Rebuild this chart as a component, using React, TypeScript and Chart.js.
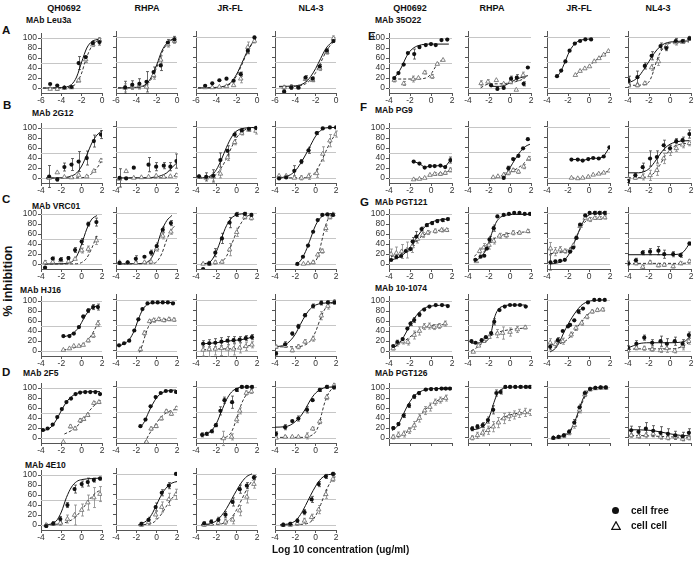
import React, { useEffect, useRef } from "react";
import { Chart, registerables } from "chart.js";
Chart.register(...registerables);

type Pair = [number, number];

const colNames = ["QH0692", "RHPA", "JR-FL", "NL4-3"];
const leftMabs = ["MAb Leu3a", "MAb 2G12", "MAb VRC01", "MAb HJ16", "MAb 2F5", "MAb 4E10"];
const rightMabs = ["MAb 35O22", "MAb PG9", "MAb PGT121", "MAb 10-1074", "MAb PGT126"];
const xTicksWide = [-6, -4, -2, 0];
const xTicksStd = [-4, -2, 0, 2];
const yTicks = [0, 20, 40, 60, 80, 100];
const refValues = [0, 50, 100];

// ---------- Leu3a ----------
const leu_x = [-5.1, -4.4, -3.7, -3.0, -2.3, -1.6, -0.9, -0.25];
const leuQH_f = [8, 5, 1, 2, 50, 62, 90, 92];
const leuQH_fe = [0, 0, 0, 0, 13, 0, 4, 6];
const leuQH_c = [-2, -2, 0, 1, 15, 57, 87, 96];
const leuQH_ce = [0, 3, 0, 0, 3, 6, 4, 5];
const leuQH_fitF: Pair[] = [[-5.8, 0], [-4, 1], [-3, 7], [-2.5, 22], [-2, 52], [-1.5, 80], [-1, 93], [-0.5, 97], [-0.2, 98]];
const leuQH_fitC: Pair[] = [[-5.8, 0], [-4, 0], [-3, 3], [-2.5, 10], [-2, 30], [-1.7, 50], [-1.3, 72], [-1, 84], [-0.5, 94], [-0.2, 97]];
const leuRH_f = [1, 6, 8, 12, 31, 44, 89, 95];
const leuRH_fe = [12, 8, 10, 20, 10, 10, 6, 6];
const leuRH_c = [0, 3, 5, 2, 25, 55, 85, 92];
const leuRH_ce = [8, 6, 6, 4, 8, 8, 5, 5];
const leuRH_fitF: Pair[] = [[-5.8, 0], [-4, 1], [-3, 8], [-2.5, 22], [-2, 45], [-1.5, 72], [-1, 88], [-0.5, 95], [-0.2, 97]];
const leuRH_fitC: Pair[] = [[-5.8, 0], [-4, 1], [-3, 6], [-2.5, 18], [-2, 40], [-1.5, 68], [-1, 86], [-0.5, 94], [-0.2, 96]];
const leuJR_f = [4, 9, 15, 18, 14, 27, 73, 99];
const leuJR_fe = [0, 0, 0, 0, 0, 4, 6, 0];
const leuJR_c = [1, 1, 2, 3, 5, 18, 80, 92];
const leuJR_ce = [0, 0, 0, 0, 0, 8, 10, 4];
const leuJR_fitF: Pair[] = [[-5.8, 0], [-4, 1], [-3, 5], [-2.5, 12], [-2, 27], [-1.5, 48], [-1, 70], [-0.5, 87], [-0.1, 96]];
const leuJR_fitC: Pair[] = [[-5.8, 0], [-4, 0], [-3, 4], [-2.5, 10], [-2, 24], [-1.5, 45], [-1, 68], [-0.5, 86], [-0.1, 95]];
const leuNL_f = [-7, 1, 1, 20, 18, 42, 73, 92];
const leuNL_fe = [0, 4, 3, 4, 3, 4, 4, 3];
const leuNL_c = [1, 2, 1, 17, 15, 38, 70, 97];
const leuNL_ce = [3, 4, 3, 4, 3, 4, 4, 5];
const leuNL_fitF: Pair[] = [[-5.6, 3], [-4, 4], [-3, 11], [-2.5, 22], [-2, 38], [-1.5, 58], [-1, 77], [-0.5, 88], [-0.1, 92]];
const leuNL_fitC: Pair[] = [[-5.6, 2], [-4, 3], [-3, 8], [-2.5, 16], [-2, 30], [-1.5, 50], [-1, 70], [-0.5, 85], [-0.1, 92]];

// ---------- 2G12 ----------
const g12QH_x = [-3.2, -2.4, -1.7, -1.0, -0.3, 0.5, 1.2, 1.9];
const g12QH_f = [3, -3, 22, 27, 33, 40, 74, 87];
const g12QH_fe = [22, 3, 8, 12, 20, 14, 12, 8];
const g12QH_c = [0, 11, 2, 1, 6, 3, 14, 35];
const g12QH_ce = [0, 0, 0, 0, 0, 0, 0, 3];
const g12QH_fitF: Pair[] = [[-3.5, 0], [-2, 0.5], [-1, 4], [-0.5, 10], [0, 24], [0.5, 46], [1, 70], [1.5, 86], [2, 95]];
const g12QH_fitC: Pair[] = [[-3.5, 0], [0, 0.5], [0.5, 3], [1, 9], [1.5, 20], [2, 35]];
const g12RH_fx = [-3.65, -3.0, -2.25, -0.8, -0.05, 0.7, 1.35, 1.95];
const g12RH_f = [0, -1, 20, 26, 22, 24, 22, 33];
const g12RH_fe = [18, 0, 0, 14, 8, 6, 8, 14];
const g12RH_cx = [-3.65, -3.0, -2.25, -1.5, -0.8, -0.05, 0.7, 1.35, 1.95];
const g12RH_c = [-2, 13, 0, 1, 2, 4, 2, 3, 5];
const g12RH_ce = [0, 0, 0, 0, 0, 0, 0, 0, 3];
const g12RH_fitF: Pair[] = [[-3.7, 0], [-1, 0.3], [0, 2], [0.5, 5], [1, 10], [1.5, 20], [2, 30]];
const g12RH_fitC: Pair[] = [[-3.7, 0], [0.5, 0.2], [1, 1], [1.5, 3], [2, 6]];
const g12JR_x = [-3.7, -3.0, -2.3, -1.6, -0.9, -0.2, 0.5, 1.2, 1.9];
const g12JR_f = [3, 2, 4, 35, 53, 85, 93, 96, 98];
const g12JR_fe = [0, 8, 12, 14, 10, 5, 3, 2, 0];
const g12JR_c = [2, 0, 2, 8, 40, 70, 88, 94, 92];
const g12JR_ce = [0, 0, 8, 8, 6, 5, 4, 3, 6];
const g12JR_fitF: Pair[] = [[-3.7, 0], [-3, 1], [-2.5, 5], [-2, 16], [-1.5, 36], [-1, 60], [-0.5, 80], [0, 92], [1, 98], [2, 99]];
const g12JR_fitC: Pair[] = [[-3.7, 0], [-3, 0], [-2.5, 2], [-2, 7], [-1.5, 20], [-1, 38], [-0.5, 60], [0, 79], [0.5, 90], [1, 96], [2, 99]];
const g12NL_x = [-3.6, -2.9, -2.1, -1.4, -0.7, 0.1, 0.7, 1.4, 2.0];
const g12NL_f = [-1, 1, 14, 32, 54, 88, 97, 99, 99];
const g12NL_fe = [0, 0, 10, 4, 6, 3, 0, 0, 0];
const g12NL_c = [4, 4, 0, 0, 3, 9, 47, 73, 86];
const g12NL_ce = [0, 0, 0, 4, 6, 8, 14, 12, 6];
const g12NL_fitF: Pair[] = [[-3.6, 0], [-3, 2], [-2.5, 6], [-2, 14], [-1.5, 28], [-1, 45], [-0.5, 64], [0, 82], [0.5, 93], [1, 98], [2, 99]];
const g12NL_fitC: Pair[] = [[-3.6, 0], [-1, 0.5], [-0.5, 3], [0, 12], [0.5, 30], [1, 52], [1.5, 72], [2, 87]];

// ---------- VRC01 ----------
const vrcQH_x = [-3.6, -2.85, -2.05, -1.3, -0.65, 0.0, 0.65, 1.45];
const vrcQH_f = [-7, 11, 9, 12, 28, 45, 80, 84];
const vrcQH_fe = [0, 3, 4, 3, 5, 6, 4, 8];
const vrcQH_c = [3, 4, 7, 5, 10, 27, 30, 47];
const vrcQH_ce = [4, 0, 0, 0, 0, 5, 6, 8];
const vrcQH_fitF: Pair[] = [[-3.6, 0], [-2, 0.5], [-1, 4], [-0.5, 15], [0, 40], [0.5, 70], [1, 90], [1.5, 97]];
const vrcQH_fitC: Pair[] = [[-3.6, 0], [-0.5, 0.5], [0, 3], [0.5, 12], [1, 32], [1.5, 58]];
const vrcRH_x = [-3.65, -2.85, -2.05, -1.2, -0.55, 0.0, 0.6, 1.4];
const vrcRH_f = [2, 3, 10, 14, 22, 35, 67, 80];
const vrcRH_fe = [0, 0, 6, 0, 5, 6, 5, 5];
const vrcRH_c = [3, 2, 2, 3, 4, 30, 55, 63];
const vrcRH_ce = [0, 0, 0, 0, 0, 5, 6, 5];
const vrcRH_fitF: Pair[] = [[-3.7, 0], [-2, 0.5], [-1, 3], [-0.5, 12], [0, 35], [0.5, 65], [1, 85], [1.5, 95]];
const vrcRH_fitC: Pair[] = [[-3.7, 0], [-0.5, 0.5], [0, 4], [0.5, 20], [1, 48], [1.5, 68], [1.8, 75]];
const vrcJR_x = [-3.3, -2.7, -2.1, -1.45, -0.7, 0.0, 0.8, 1.45];
const vrcJR_f = [-10, 1, 22, 50, 81, 97, 98, 96];
const vrcJR_fe = [0, 4, 8, 10, 10, 4, 3, 3];
const vrcJR_c = [0, 0, 3, 4, 28, 62, 92, 90];
const vrcJR_ce = [0, 0, 3, 3, 12, 8, 4, 4];
const vrcJR_fitF: Pair[] = [[-3.5, 0], [-3, 1], [-2.5, 6], [-2, 24], [-1.5, 50], [-1, 75], [-0.5, 90], [0, 96], [1, 99]];
const vrcJR_fitC: Pair[] = [[-2.2, 0], [-1.5, 4], [-1, 15], [-0.5, 38], [0, 63], [0.5, 82], [1, 93], [1.5, 97]];
const vrcNL_fx = [-1.8, -1.25, -0.75, -0.25, 0.2, 0.65, 1.15, 1.7];
const vrcNL_f = [0, 14, 36, 63, 86, 96, 97, 96];
const vrcNL_fe = [0, 0, 0, 0, 0, 0, 0, 0];
const vrcNL_cx = [-1.2, -0.75, -0.25, 0.2, 0.65, 1.0, 1.4, 1.7];
const vrcNL_c = [0, 1, 3, 18, 25, 70, 92, 97];
const vrcNL_ce = [0, 0, 3, 4, 4, 6, 4, 3];
const vrcNL_fitF: Pair[] = [[-2, -2], [-1.5, 6], [-1, 24], [-0.5, 50], [0, 76], [0.5, 91], [1, 97], [1.7, 99]];
const vrcNL_fitC: Pair[] = [[-0.8, 0], [0, 6], [0.3, 20], [0.6, 45], [0.9, 70], [1.2, 87], [1.7, 98]];

// ---------- HJ16 ----------
const hjQH_x = [-1.8, -1.2, -0.77, -0.27, 0.15, 0.64, 1.13, 1.6];
const hjQH_f = [30, 30, 35, 48, 69, 81, 88, 88];
const hjQH_fe = [0, 0, 0, 0, 3, 4, 5, 6];
const hjQH_c = [2, 5, 10, 10, 12, 21, 31, 55];
const hjQH_ce = [0, 0, 0, 0, 0, 3, 4, 6];
const hjQH_fitF: Pair[] = [[-1.8, 28], [-1.2, 32], [-0.7, 38], [-0.2, 50], [0.2, 65], [0.6, 78], [1, 86], [1.6, 91]];
const hjQH_fitC: Pair[] = [[-1.8, 2], [-1, 5], [0, 12], [0.5, 20], [1, 33], [1.4, 48], [1.7, 62]];
const hjRH_fx = [-3.7, -3.2, -2.7, -2.2, -1.8, -1.4, -0.9, -0.4, 0.1, 0.6, 1.1, 1.6];
const hjRH_f = [11, 15, 20, 40, 62, 82, 93, 95, 95, 95, 95, 93];
const hjRH_fe = [0, 0, 0, 0, 0, 0, 0, 0, 0, 0, 0, 0];
const hjRH_cx = [-1.6, -1.2, -0.7, -0.3, 0.2, 0.7, 1.2, 1.7];
const hjRH_c = [3, 35, 58, 60, 62, 60, 62, 61];
const hjRH_ce = [4, 4, 3, 4, 3, 3, 3, 3];
const hjRH_fitF: Pair[] = [[-3.8, 9], [-3.2, 14], [-2.7, 22], [-2.2, 40], [-1.8, 62], [-1.4, 80], [-1, 90], [-0.5, 94], [1.8, 95]];
const hjRH_fitC: Pair[] = [[-1.7, -3], [-1.4, 12], [-1.1, 32], [-0.8, 48], [-0.5, 56], [0, 60], [1.8, 62]];
const hjJR_x = [-3.3, -2.7, -2.1, -1.5, -0.9, -0.3, 0.3, 0.9, 1.5];
const hjJR_f = [14, 15, 16, 18, 20, 21, 22, 25, 27];
const hjJR_fe = [6, 7, 8, 8, 8, 7, 6, 5, 5];
const hjJR_c = [2, 3, 4, 5, 4, 4, 6, 9, 12];
const hjJR_ce = [12, 14, 12, 14, 15, 12, 10, 8, 6];
const hjJR_fitF: Pair[] = [[-3.3, 14], [-2, 16], [-1, 19], [0, 21], [1, 24], [1.6, 28]];
const hjJR_fitC: Pair[] = [[-3.3, 2], [-2, 4], [-1, 4], [0, 5], [1, 9], [1.6, 13]];
const hjNL_x = [-3.9, -3.0, -2.3, -1.7, -1.05, -0.25, 0.55, 1.2, 1.85];
const hjNL_f = [-5, 13, 34, 48, 70, 88, 94, 95, 95];
const hjNL_fe = [3, 5, 3, 4, 3, 4, 4, 3, 3];
const hjNL_c = [8, 10, 1, 8, 18, 24, 69, 88, 96];
const hjNL_ce = [3, 3, 3, 4, 4, 5, 8, 6, 4];
const hjNL_fitF: Pair[] = [[-4, 8], [-3, 12], [-2.5, 20], [-2, 33], [-1.5, 52], [-1, 70], [-0.5, 83], [0, 90], [1, 94], [2, 95]];
const hjNL_fitC: Pair[] = [[-4, 8], [-2, 8], [-1, 12], [-0.5, 20], [0, 38], [0.5, 65], [1, 85], [1.5, 93], [2, 96]];

// ---------- 2F5 ----------
const f5QH_fx = [-3.8, -3.35, -2.85, -2.4, -1.95, -1.5, -1.05, -0.6, -0.15, 0.35, 0.85, 1.35, 1.8];
const f5QH_f = [16, 19, 27, 42, 58, 72, 79, 88, 91, 92, 92, 92, 88];
const f5QH_fe = [0, 0, 0, 0, 0, 0, 0, 0, 0, 0, 0, 0, 0];
const f5QH_cx = [-1.8, -1.1, -0.65, -0.15, 0.2, 0.6, 1.2, 1.7];
const f5QH_c = [-8, 23, 19, 35, 38, 46, 70, 72];
const f5QH_ce = [0, 3, 3, 4, 3, 3, 3, 3];
const f5QH_fitF: Pair[] = [[-3.8, 14], [-3, 22], [-2.5, 36], [-2, 55], [-1.5, 72], [-1, 83], [-0.5, 89], [0, 92], [1.8, 93]];
const f5QH_fitC: Pair[] = [[-1.7, 8], [-1, 15], [-0.5, 23], [0, 33], [0.5, 48], [1, 60], [1.5, 70], [1.9, 75]];
const f5RH_fx = [-1.6, -1.1, -0.6, -0.1, 0.4, 0.9, 1.4, 1.9];
const f5RH_f = [23, 36, 62, 80, 88, 92, 92, 90];
const f5RH_fe = [0, 0, 0, 0, 0, 0, 0, 0];
const f5RH_cx = [-1.0, -0.55, -0.05, 0.45, 0.95, 1.45, 1.95];
const f5RH_c = [-8, 18, 23, 38, 52, 47, 58];
const f5RH_ce = [0, 3, 3, 3, 3, 3, 3];
const f5RH_fitF: Pair[] = [[-1.6, 20], [-1.2, 32], [-0.8, 50], [-0.4, 66], [0, 79], [0.5, 88], [1, 92], [1.9, 94]];
const f5RH_fitC: Pair[] = [[-1.2, -10], [-0.8, 5], [-0.4, 18], [0, 30], [0.5, 42], [1, 50], [1.5, 54], [1.9, 56]];
const f5JR_fx = [-3.4, -2.95, -2.45, -2.05, -1.6, -1.2, -0.45, 0.0, 0.5, 1.0, 1.5];
const f5JR_f = [6, 8, 13, 25, 53, 74, 70, 94, 100, 100, 100];
const f5JR_fe = [4, 3, 3, 3, 8, 6, 12, 3, 2, 2, 2];
const f5JR_cx = [-1.3, -0.5, 0.0, 0.3, 0.95, 1.45];
const f5JR_c = [-1, 2, 36, 53, 88, 91];
const f5JR_ce = [14, 6, 6, 6, 4, 4];
const f5JR_fitF: Pair[] = [[-3.5, 4], [-3, 7], [-2.5, 14], [-2, 28], [-1.5, 52], [-1, 75], [-0.5, 90], [0, 97], [1, 100], [1.6, 100]];
const f5JR_fitC: Pair[] = [[-1.6, -2], [-1, 2], [-0.5, 12], [0, 38], [0.5, 68], [1, 86], [1.5, 94]];
const f5NL_x = [-3.9, -3.0, -2.3, -1.7, -0.85, -0.3, 0.4, 1.1, 1.8];
const f5NL_f = [8, 21, 33, 38, 55, 74, 94, 100, 99];
const f5NL_fe = [4, 5, 0, 5, 6, 0, 3, 3, 3];
const f5NL_c = [0, 2, 2, 2, 4, 18, 32, 80, 103];
const f5NL_ce = [0, 2, 0, 0, 6, 3, 4, 5, 3];
const f5NL_fitF: Pair[] = [[-4, 21], [-3, 22], [-2.5, 25], [-2, 32], [-1.5, 42], [-1, 57], [-0.5, 75], [0, 88], [0.5, 95], [1, 99], [1.8, 100]];
const f5NL_fitC: Pair[] = [[-4, 1], [-1, 1], [-0.5, 4], [0, 12], [0.3, 25], [0.6, 48], [0.9, 70], [1.2, 85], [1.5, 94], [1.9, 100]];

// ---------- 4E10 ----------
const e10QH_x = [-3.5, -2.8, -2.1, -1.4, -0.7, 0.0, 0.6, 1.2, 1.8];
const e10QH_f = [-2, 3, 12, 40, 72, 82, 86, 90, 93];
const e10QH_fe = [3, 4, 5, 5, 8, 6, 8, 4, 3];
const e10QH_c = [0, 2, 4, 12, 20, 30, 45, 55, 62];
const e10QH_ce = [3, 3, 5, 8, 20, 12, 15, 20, 15];
const e10QH_fitF: Pair[] = [[-3.6, 0], [-3, 2], [-2.5, 8], [-2, 26], [-1.5, 55], [-1, 76], [-0.5, 87], [0, 91], [1, 93], [1.8, 94]];
const e10QH_fitC: Pair[] = [[-3.6, 0], [-2, 3], [-1, 10], [-0.5, 18], [0, 30], [0.5, 44], [1, 57], [1.5, 66], [1.9, 70]];
const e10RH_x = [-1.5, -0.8, -0.1, 0.5, 1.2, 1.9];
const e10RH_f = [2, 10, 35, 63, 77, 100];
const e10RH_fe = [3, 5, 8, 6, 6, 0];
const e10RH_c = [0, 5, 20, 35, 50, 60];
const e10RH_ce = [3, 5, 8, 10, 12, 10];
const e10RH_fitF: Pair[] = [[-1.8, 0], [-1, 8], [-0.5, 20], [0, 40], [0.5, 60], [1, 74], [1.5, 82], [2, 85]];
const e10RH_fitC: Pair[] = [[-1.8, 0], [-0.5, 3], [0, 10], [0.5, 22], [1, 38], [1.5, 52], [2, 62]];
const e10JR_x = [-3.2, -2.5, -1.8, -1.1, -0.4, 0.3, 1.0, 1.7];
const e10JR_f = [3, 6, 10, 20, 45, 70, 77, 93];
const e10JR_fe = [3, 4, 5, 6, 8, 8, 6, 4];
const e10JR_c = [0, 2, 4, 6, 10, 28, 55, 80];
const e10JR_ce = [3, 3, 4, 5, 8, 10, 12, 8];
const e10JR_fitF: Pair[] = [[-3.5, 0], [-2.5, 3], [-2, 8], [-1.5, 18], [-1, 32], [-0.5, 50], [0, 68], [0.5, 84], [1, 95], [1.5, 100]];
const e10JR_fitC: Pair[] = [[-3.5, 0], [-1.5, 2], [-1, 6], [-0.5, 14], [0, 30], [0.5, 50], [1, 70], [1.5, 86], [2, 95]];
const e10NL_x = [-3.2, -2.5, -1.8, -1.1, -0.4, 0.3, 1.0, 1.7];
const e10NL_f = [0, 2, 8, 25, 50, 80, 95, 100];
const e10NL_fe = [3, 3, 4, 5, 6, 5, 4, 3];
const e10NL_c = [0, 0, 3, 8, 15, 30, 60, 90];
const e10NL_ce = [3, 3, 4, 5, 6, 8, 8, 5];
const e10NL_fitF: Pair[] = [[-3.5, 0], [-2.5, 3], [-2, 8], [-1.5, 20], [-1, 38], [-0.5, 58], [0, 76], [0.5, 90], [1, 97], [2, 100]];
const e10NL_fitC: Pair[] = [[-3.5, 0], [-1.5, 1], [-0.5, 6], [0, 18], [0.5, 40], [1, 66], [1.5, 85], [2, 95]];

// ---------- 35O22 ----------
const o22QH_fx = [-3.5, -3.1, -2.6, -2.2, -1.6, -1.1, -0.5, 0.0, 0.45, 1.0, 1.55];
const o22QH_f = [20, 30, 47, 70, 68, 82, 86, 88, 86, 96, 97];
const o22QH_fe = [0, 0, 0, 0, 10, 3, 0, 0, 0, 0, 0];
const o22QH_cx = [-3.5, -2.6, -1.7, -1.2, -0.6, 0.1, 0.6, 1.15];
const o22QH_c = [16, 9, 18, 20, 31, 23, 48, 56];
const o22QH_ce = [4, 4, 6, 0, 3, 4, 0, 0];
const o22QH_fitF: Pair[] = [[-3.6, 18], [-3.2, 28], [-2.8, 42], [-2.5, 56], [-2.2, 68], [-1.8, 78], [-1.2, 85], [0, 88], [1.7, 88]];
const o22QH_fitC: Pair[] = [[-3.6, 18], [-1.5, 18], [-0.5, 20], [0, 28], [0.3, 38], [0.6, 48], [0.9, 54], [1.2, 57]];
const o22RH_fx = [-1.8, -1.2, -0.6, 0.1, 0.65, 1.3, 1.7];
const o22RH_f = [5, -2, 0, 18, 20, 8, 40];
const o22RH_fe = [0, 0, 0, 5, 6, 4, 0];
const o22RH_cx = [-2.75, -2.1, -1.3, -0.6, 0.05, 0.6, 1.25];
const o22RH_c = [9, 12, 15, 8, 12, -4, 25];
const o22RH_ce = [5, 4, 0, 0, 4, 0, 6];
const o22RH_fitF: Pair[] = [[-1.8, 3], [-1, 3], [-0.5, 5], [0, 10], [0.5, 16], [1, 20], [1.7, 24]];
const o22RH_fitC: Pair[] = [[-2.8, 0], [-2.3, 6], [-1.8, 8], [-1, 8], [-0.3, 9], [0.5, 12], [1.2, 17], [1.7, 25]];
const o22JR_fx = [-3.05, -2.65, -2.25, -1.85, -1.35, -0.85, -0.35, 0.2];
const o22JR_f = [23, 34, 52, 73, 87, 92, 95, 95];
const o22JR_fe = [0, 0, 0, 0, 0, 0, 0, 0];
const o22JR_cx = [-1.3, -0.85, -0.4, 0.05, 0.5, 0.95, 1.4, 1.85];
const o22JR_c = [25, 33, 38, 42, 52, 58, 65, 72];
const o22JR_ce = [0, 0, 0, 0, 0, 0, 0, 0];
const o22JR_fitF: Pair[] = [[-3.1, 20], [-2.7, 32], [-2.3, 50], [-1.9, 70], [-1.5, 83], [-1, 92], [-0.4, 95], [0.2, 96]];
const o22JR_fitC: Pair[] = [[-1.3, 25], [-0.8, 33], [-0.3, 39], [0.1, 44], [0.5, 52], [1, 59], [1.5, 66], [1.9, 72]];
const o22NL_fx = [-3.95, -3.1, -2.4, -1.75, -0.9, -0.35, 0.55, 1.2, 1.85];
const o22NL_f = [15, 21, 43, 63, 82, 78, 92, 92, 97];
const o22NL_fe = [8, 12, 6, 8, 6, 5, 5, 3, 3];
const o22NL_cx = [-3.95, -3.1, -2.4, -1.75, -1.1, -0.35, 0.55, 1.2, 1.85];
const o22NL_c = [5, 5, 9, 40, 52, 82, 89, 90, 97];
const o22NL_ce = [3, 3, 3, 6, 8, 5, 5, 3, 3];
const o22NL_fitF: Pair[] = [[-4, 10], [-3.5, 14], [-3, 22], [-2.5, 36], [-2, 52], [-1.5, 68], [-1, 80], [-0.5, 87], [0.5, 91], [1.8, 92]];
const o22NL_fitC: Pair[] = [[-4, 5], [-2.5, 6], [-2, 12], [-1.7, 25], [-1.4, 45], [-1.1, 62], [-0.7, 77], [-0.2, 86], [0.5, 89], [1.8, 90]];

// ---------- PG9 ----------
const pg9QH_x = [-1.65, -1.1, -0.6, -0.1, 0.35, 0.9, 1.35, 1.85];
const pg9QH_f = [33, 29, 21, 24, 24, 25, 22, 36];
const pg9QH_fe = [0, 0, 0, 0, 0, 0, 0, 6];
const pg9QH_c = [-3, -2, 0, 6, 8, 8, 10, 16];
const pg9QH_ce = [0, 0, 0, 0, 3, 3, 3, 4];
const pg9QH_fitF: Pair[] = [[-1.65, 33], [-1.1, 29], [-0.6, 21], [-0.1, 24], [0.35, 24], [0.9, 25], [1.35, 22], [1.85, 36]];
const pg9QH_fitC: Pair[] = [[-1.65, -3], [-1.1, -2], [-0.6, 0], [-0.1, 6], [0.35, 8], [0.9, 8], [1.35, 10], [1.85, 16]];
const pg9RH_fx = [-0.6, -0.15, 0.3, 0.8, 1.25, 1.7];
const pg9RH_f = [0, 19, 37, 43, 58, 76];
const pg9RH_fe = [0, 4, 0, 0, 0, 0];
const pg9RH_cx = [-1.6, -1.15, -0.6, -0.15, 0.3, 0.8, 1.3, 1.8];
const pg9RH_c = [1, 3, 6, 10, 15, 12, 22, 38];
const pg9RH_ce = [0, 0, 4, 4, 3, 3, 4, 4];
const pg9RH_fitF: Pair[] = [[-0.7, -2], [-0.3, 10], [0, 20], [0.5, 37], [1, 52], [1.5, 62], [1.9, 66]];
const pg9RH_fitC: Pair[] = [[-1.8, 0], [-1, 3], [-0.3, 8], [0.3, 14], [0.8, 20], [1.3, 28], [1.9, 40]];
const pg9JR_x = [-1.67, -1.07, -0.6, -0.07, 0.4, 0.93, 1.4, 1.95];
const pg9JR_f = [36, 36, 34, 37, 39, 38, 42, 60];
const pg9JR_fe = [0, 0, 0, 0, 0, 0, 0, 0];
const pg9JR_c = [0, -1, 0, 2, 6, 8, 10, 14];
const pg9JR_ce = [0, 0, 0, 0, 0, 0, 0, 0];
const pg9JR_fitF: Pair[] = [[-1.67, 36], [-1.07, 36], [-0.6, 34], [-0.07, 37], [0.4, 39], [0.93, 38], [1.4, 42], [1.95, 60]];
const pg9JR_fitC: Pair[] = [[-1.67, 0], [-1.07, -1], [-0.6, 0], [-0.07, 2], [0.4, 6], [0.93, 8], [1.4, 10], [1.95, 14]];
const pg9NL_x = [-4.0, -3.3, -2.6, -1.9, -1.25, -0.6, 0.0, 0.6, 1.2, 1.85];
const pg9NL_f = [-6, 5, 21, 38, 41, 64, 58, 72, 74, 86];
const pg9NL_fe = [3, 4, 8, 15, 12, 10, 6, 5, 6, 8];
const pg9NL_c = [-2, 0, 2, 5, 15, 38, 52, 58, 65, 68];
const pg9NL_ce = [3, 3, 6, 10, 10, 10, 8, 6, 6, 5];
const pg9NL_fitF: Pair[] = [[-4, 10], [-3, 10], [-2.5, 12], [-2, 18], [-1.5, 30], [-1, 45], [-0.5, 58], [0, 66], [0.5, 70], [1, 72], [1.8, 73]];
const pg9NL_fitC: Pair[] = [[-4, 0], [-2.5, 1], [-2, 3], [-1.5, 10], [-1, 24], [-0.5, 42], [0, 55], [0.5, 63], [1, 66], [1.8, 68]];

// ---------- PGT121 ----------
const t121QH_fx = [-3.8, -3.3, -2.85, -2.4, -1.95, -1.75, -1.4, -0.9, -0.4, 0.1, 0.6, 1.1, 1.6];
const t121QH_f = [8, 14, 16, 26, 30, 45, 55, 70, 78, 82, 86, 88, 90];
const t121QH_fe = [0, 0, 0, 0, 0, 8, 10, 4, 3, 3, 3, 3, 2];
const t121QH_cx = [-3.8, -3.3, -2.8, -2.3, -1.8, -1.3, -0.8, -0.3, 0.4, 1.0, 1.5];
const t121QH_c = [20, 22, 25, 28, 35, 50, 58, 63, 66, 68, 68];
const t121QH_ce = [10, 12, 14, 16, 12, 8, 5, 4, 4, 4, 3];
const t121QH_fitF: Pair[] = [[-3.8, 8], [-3.2, 12], [-2.7, 18], [-2.2, 28], [-1.7, 42], [-1.2, 58], [-0.7, 72], [-0.2, 81], [0.5, 87], [1.6, 90]];
const t121QH_fitC: Pair[] = [[-3.8, 15], [-3.2, 18], [-2.7, 22], [-2.2, 30], [-1.7, 40], [-1.2, 50], [-0.7, 58], [-0.2, 63], [0.5, 67], [1.5, 68]];
const t121RH_fx = [-3.3, -2.8, -2.45, -2.2, -1.95, -1.55, -1.2, -0.6, -0.1, 0.4, 0.9, 1.4, 1.9];
const t121RH_f = [8, 14, 16, 30, 48, 70, 93, 96, 98, 100, 100, 98, 98];
const t121RH_fe = [0, 0, 0, 0, 6, 6, 0, 0, 0, 0, 0, 0, 0];
const t121RH_cx = [-3.2, -2.9, -2.5, -2.0, -1.55, -1.0, -0.35, 0.3, 0.9, 1.7];
const t121RH_c = [5, 25, 32, 37, 45, 55, 56, 61, 61, 64];
const t121RH_ce = [0, 6, 8, 8, 6, 5, 5, 4, 3, 3];
const t121RH_fitF: Pair[] = [[-3.4, 5], [-3, 10], [-2.6, 18], [-2.2, 32], [-1.9, 50], [-1.6, 68], [-1.3, 82], [-1, 90], [-0.5, 95], [0.5, 97], [1.9, 97]];
const t121RH_fitC: Pair[] = [[-3.4, 15], [-3, 22], [-2.6, 30], [-2.2, 38], [-1.8, 45], [-1.3, 52], [-0.8, 56], [0, 60], [1, 62], [1.9, 63]];
const t121JR_x = [-3.67, -3.2, -2.75, -2.3, -1.8, -1.5, -1.2, -0.85, -0.36, 0.06, 0.55, 1.0, 1.5];
const t121JR_f = [3, 5, 6, 8, 24, 32, 51, 77, 95, 100, 100, 100, 100];
const t121JR_fe = [15, 0, 0, 0, 0, 0, 0, 0, 0, 0, 3, 3, 3];
const t121JR_c = [30, 24, 28, 25, 27, 36, 52, 74, 90, 87, 90, 90, 91];
const t121JR_ce = [12, 8, 6, 4, 4, 0, 0, 0, 0, 4, 3, 3, 3];
const t121JR_fitF: Pair[] = [[-3.7, 0], [-3, 2], [-2.5, 6], [-2, 16], [-1.6, 32], [-1.2, 52], [-0.8, 72], [-0.4, 88], [0, 96], [0.5, 99], [1.5, 100]];
const t121JR_fitC: Pair[] = [[-3.7, 20], [-3, 22], [-2.5, 24], [-2, 28], [-1.6, 36], [-1.2, 52], [-0.8, 70], [-0.4, 82], [0, 88], [0.5, 90], [1.5, 91]];
const t121NL_x = [-4.0, -3.25, -2.6, -1.9, -1.1, -0.55, 0.3, 1.0, 1.85];
const t121NL_f = [1, 7, 22, 24, 26, 19, 19, 17, 40];
const t121NL_fe = [3, 4, 4, 6, 8, 8, 5, 4, 3];
const t121NL_c = [3, 1, -6, 3, -3, -2, -5, 1, 5];
const t121NL_ce = [3, 3, 3, 3, 3, 3, 3, 3, 3];
const t121NL_fitF: Pair[] = [[-4, 18], [-2, 18], [0, 18], [0.8, 19], [1.3, 24], [1.6, 32], [1.9, 42]];
const t121NL_fitC: Pair[] = [[-4, 1], [-2, 1], [0, 1], [1, 1], [1.9, 2]];

// ---------- 10-1074 ----------
const t1074QH_fx = [-3.6, -3.2, -2.7, -2.25, -1.95, -1.6, -1.1, -0.65, -0.15, 0.45, 1.05, 1.6];
const t1074QH_f = [10, 18, 24, 45, 55, 62, 73, 83, 89, 92, 92, 90];
const t1074QH_fe = [0, 0, 0, 0, 4, 5, 4, 0, 0, 0, 0, 0];
const t1074QH_cx = [-3.6, -3.2, -2.7, -2.2, -1.6, -1.1, -0.65, -0.15, 0.3, 0.8, 1.35];
const t1074QH_c = [5, 16, 19, 18, 32, 40, 49, 50, 48, 50, 55];
const t1074QH_ce = [3, 6, 5, 6, 8, 8, 6, 6, 5, 5, 5];
const t1074QH_fitF: Pair[] = [[-3.7, 5], [-3.2, 12], [-2.8, 22], [-2.4, 36], [-2, 52], [-1.6, 65], [-1.2, 76], [-0.7, 85], [0, 90], [1.6, 92]];
const t1074QH_fitC: Pair[] = [[-3.7, 10], [-3.2, 13], [-2.7, 18], [-2.2, 25], [-1.7, 33], [-1.2, 41], [-0.7, 47], [0, 51], [1.4, 53]];
const t1074RH_fx = [-3.67, -3.28, -2.7, -2.3, -1.8, -1.5, -1.0, -0.5, 0.0, 0.45, 0.95, 1.5];
const t1074RH_f = [19, 16, 21, 27, 35, 57, 80, 87, 90, 90, 90, 87];
const t1074RH_fe = [0, 0, 0, 0, 0, 6, 0, 0, 0, 0, 0, 0];
const t1074RH_cx = [-3.5, -3.0, -2.5, -2.0, -1.2, -0.7, 0.0, 0.7, 1.45];
const t1074RH_c = [-2, 10, 19, 27, 34, 35, 37, 42, 46];
const t1074RH_ce = [0, 0, 0, 0, 8, 12, 8, 6, 3];
const t1074RH_fitF: Pair[] = [[-3.7, 15], [-2.5, 17], [-2.1, 22], [-1.8, 35], [-1.6, 55], [-1.4, 70], [-1.1, 82], [-0.6, 88], [0, 90], [1.5, 90]];
const t1074RH_fitC: Pair[] = [[-3.7, 0], [-3.2, 6], [-2.7, 14], [-2.2, 24], [-1.7, 31], [-1.2, 36], [-0.5, 40], [0.5, 43], [1.5, 45]];
const t1074JR_fx = [-3.7, -2.97, -2.5, -2.0, -1.8, -1.4, -1.0, -0.57, -0.1, 0.5, 1.0, 1.5];
const t1074JR_f = [8, 21, 39, 48, 51, 60, 77, 83, 95, 100, 100, 100];
const t1074JR_fe = [6, 5, 0, 0, 0, 0, 4, 0, 0, 0, 0, 0];
const t1074JR_cx = [-3.7, -3.2, -2.5, -1.7, -1.25, -0.7, -0.2, 0.3, 0.8, 1.3];
const t1074JR_c = [16, 13, 19, 32, 45, 55, 67, 77, 80, 81];
const t1074JR_ce = [8, 6, 6, 5, 5, 5, 4, 3, 3, 3];
const t1074JR_fitF: Pair[] = [[-3.7, -2], [-3.2, 5], [-2.8, 18], [-2.4, 36], [-2, 52], [-1.6, 66], [-1.2, 78], [-0.8, 88], [-0.2, 96], [0.5, 99], [1.5, 100]];
const t1074JR_fitC: Pair[] = [[-3.7, 12], [-2.8, 14], [-2.2, 20], [-1.7, 30], [-1.2, 44], [-0.7, 58], [-0.2, 70], [0.3, 77], [1, 81], [1.5, 82]];
const t1074NL_x = [-4.0, -3.2, -2.45, -1.7, -0.9, -0.3, 0.45, 1.2, 1.8];
const t1074NL_f = [6, 14, 26, 16, 19, 14, 19, 14, 31];
const t1074NL_fe = [4, 6, 5, 6, 10, 10, 8, 8, 6];
const t1074NL_c = [1, 6, 5, 3, 1, 5, 0, 10, 19];
const t1074NL_ce = [3, 4, 4, 4, 4, 8, 4, 8, 6];
const t1074NL_fitF: Pair[] = [[-4, 6], [-3.5, 10], [-3, 14], [-2, 16], [0, 16], [1, 17], [1.5, 20], [1.9, 28]];
const t1074NL_fitC: Pair[] = [[-4, 3], [-3, 4], [-1, 4], [0, 4], [1, 7], [1.5, 12], [1.9, 18]];

// ---------- PGT126 ----------
const t126QH_fx = [-3.6, -3.1, -2.6, -2.1, -1.6, -1.15, -0.5, 0.0, 0.5, 1.0, 1.4, 1.8];
const t126QH_f = [20, 28, 45, 65, 83, 90, 97, 98, 98, 99, 99, 99];
const t126QH_fe = [3, 3, 4, 4, 4, 3, 2, 2, 2, 2, 2, 2];
const t126QH_cx = [-3.6, -3.1, -2.6, -2.1, -1.6, -1.1, -0.6, -0.1, 0.4, 0.9, 1.4];
const t126QH_c = [2, 6, 8, 15, 25, 40, 55, 62, 72, 76, 80];
const t126QH_ce = [4, 6, 6, 6, 8, 8, 8, 8, 6, 6, 6];
const t126QH_fitF: Pair[] = [[-3.7, 15], [-3.2, 24], [-2.8, 40], [-2.4, 58], [-2, 73], [-1.6, 84], [-1.1, 92], [-0.5, 97], [0.5, 99], [1.8, 99]];
const t126QH_fitC: Pair[] = [[-3.7, 0], [-3, 4], [-2.5, 9], [-2, 17], [-1.5, 30], [-1, 45], [-0.5, 58], [0, 67], [0.5, 74], [1, 78], [1.5, 80]];
const t126RH_fx = [-3.6, -3.1, -2.6, -2.1, -1.6, -1.3, -0.9, -0.45, 0.0, 0.5, 1.0, 1.5, 1.9];
const t126RH_f = [18, 22, 25, 35, 55, 88, 90, 100, 100, 100, 100, 100, 100];
const t126RH_fe = [4, 4, 5, 6, 8, 6, 4, 2, 2, 2, 2, 2, 2];
const t126RH_cx = [-3.6, -3.1, -2.6, -2.1, -1.6, -1.1, -0.6, -0.1, 0.4, 0.9, 1.4, 1.9];
const t126RH_c = [0, 5, 10, 15, 22, 30, 38, 42, 45, 48, 50, 50];
const t126RH_ce = [4, 6, 6, 8, 10, 10, 10, 8, 8, 8, 8, 6];
const t126RH_fitF: Pair[] = [[-3.7, 15], [-2.8, 20], [-2.3, 28], [-1.9, 45], [-1.6, 65], [-1.3, 82], [-1, 92], [-0.5, 98], [0.5, 100], [1.9, 100]];
const t126RH_fitC: Pair[] = [[-3.7, 0], [-3, 5], [-2.5, 10], [-2, 18], [-1.5, 27], [-1, 35], [-0.5, 41], [0, 45], [1, 49], [1.9, 50]];
const t126JR_x = [-3.4, -2.9, -2.4, -1.9, -1.4, -0.9, -0.4, 0.1, 0.6, 1.1, 1.6];
const t126JR_f = [0, 2, 5, 12, 30, 60, 88, 96, 98, 99, 99];
const t126JR_fe = [2, 2, 3, 4, 6, 6, 4, 2, 2, 2, 2];
const t126JR_c = [0, 1, 4, 10, 25, 55, 85, 95, 97, 98, 98];
const t126JR_ce = [2, 2, 3, 4, 6, 6, 4, 3, 2, 2, 2];
const t126JR_fitF: Pair[] = [[-3.5, 0], [-2.5, 4], [-2, 10], [-1.5, 25], [-1, 52], [-0.5, 80], [0, 94], [0.5, 98], [1.6, 100]];
const t126JR_fitC: Pair[] = [[-3.5, 0], [-2.5, 3], [-2, 8], [-1.5, 22], [-1, 48], [-0.5, 76], [0, 92], [0.5, 97], [1.6, 99]];
const t126NL_x = [-3.7, -3.0, -2.3, -1.6, -0.9, -0.2, 0.5, 1.2, 1.8];
const t126NL_f = [15, 12, 18, 14, 10, 8, 5, 3, 10];
const t126NL_fe = [8, 10, 12, 10, 12, 10, 8, 8, 8];
const t126NL_c = [5, 3, 5, 8, 2, 0, 2, -2, 0];
const t126NL_ce = [4, 4, 5, 6, 4, 4, 4, 4, 4];
const t126NL_fitF: Pair[] = [[-3.7, 16], [-2, 15], [-1, 12], [0, 8], [1, 5], [1.8, 4]];
const t126NL_fitC: Pair[] = [[-3.7, 5], [-2, 4], [0, 2], [1.8, 1]];

// ---------- panel table (built from the arrays above) ----------
interface Panel {
  side: number; row: number; col: number; wide?: boolean; straight?: boolean; showX?: boolean;
  fx: number[]; fy: number[]; fe: number[]; cx: number[]; cy: number[]; ce: number[];
  fitF: Pair[]; fitC: Pair[];
}
const P = (side: number, row: number, col: number, fx: number[], fy: number[], fe: number[], cx: number[], cy: number[], ce: number[], fitF: Pair[], fitC: Pair[], extra: Partial<Panel> = {}): Panel =>
  ({ side, row, col, fx, fy, fe, cx, cy, ce, fitF, fitC, ...extra });

const panels: Panel[] = [
  P(0, 0, 0, leu_x, leuQH_f, leuQH_fe, leu_x, leuQH_c, leuQH_ce, leuQH_fitF, leuQH_fitC, { wide: true }),
  P(0, 0, 1, leu_x, leuRH_f, leuRH_fe, leu_x, leuRH_c, leuRH_ce, leuRH_fitF, leuRH_fitC, { wide: true }),
  P(0, 0, 2, leu_x, leuJR_f, leuJR_fe, leu_x, leuJR_c, leuJR_ce, leuJR_fitF, leuJR_fitC, { wide: true }),
  P(0, 0, 3, leu_x, leuNL_f, leuNL_fe, leu_x, leuNL_c, leuNL_ce, leuNL_fitF, leuNL_fitC, { wide: true }),
  P(0, 1, 0, g12QH_x, g12QH_f, g12QH_fe, g12QH_x, g12QH_c, g12QH_ce, g12QH_fitF, g12QH_fitC),
  P(0, 1, 1, g12RH_fx, g12RH_f, g12RH_fe, g12RH_cx, g12RH_c, g12RH_ce, g12RH_fitF, g12RH_fitC),
  P(0, 1, 2, g12JR_x, g12JR_f, g12JR_fe, g12JR_x, g12JR_c, g12JR_ce, g12JR_fitF, g12JR_fitC),
  P(0, 1, 3, g12NL_x, g12NL_f, g12NL_fe, g12NL_x, g12NL_c, g12NL_ce, g12NL_fitF, g12NL_fitC),
  P(0, 2, 0, vrcQH_x, vrcQH_f, vrcQH_fe, vrcQH_x, vrcQH_c, vrcQH_ce, vrcQH_fitF, vrcQH_fitC),
  P(0, 2, 1, vrcRH_x, vrcRH_f, vrcRH_fe, vrcRH_x, vrcRH_c, vrcRH_ce, vrcRH_fitF, vrcRH_fitC),
  P(0, 2, 2, vrcJR_x, vrcJR_f, vrcJR_fe, vrcJR_x, vrcJR_c, vrcJR_ce, vrcJR_fitF, vrcJR_fitC),
  P(0, 2, 3, vrcNL_fx, vrcNL_f, vrcNL_fe, vrcNL_cx, vrcNL_c, vrcNL_ce, vrcNL_fitF, vrcNL_fitC),
  P(0, 3, 0, hjQH_x, hjQH_f, hjQH_fe, hjQH_x, hjQH_c, hjQH_ce, hjQH_fitF, hjQH_fitC),
  P(0, 3, 1, hjRH_fx, hjRH_f, hjRH_fe, hjRH_cx, hjRH_c, hjRH_ce, hjRH_fitF, hjRH_fitC),
  P(0, 3, 2, hjJR_x, hjJR_f, hjJR_fe, hjJR_x, hjJR_c, hjJR_ce, hjJR_fitF, hjJR_fitC),
  P(0, 3, 3, hjNL_x, hjNL_f, hjNL_fe, hjNL_x, hjNL_c, hjNL_ce, hjNL_fitF, hjNL_fitC),
  P(0, 4, 0, f5QH_fx, f5QH_f, f5QH_fe, f5QH_cx, f5QH_c, f5QH_ce, f5QH_fitF, f5QH_fitC),
  P(0, 4, 1, f5RH_fx, f5RH_f, f5RH_fe, f5RH_cx, f5RH_c, f5RH_ce, f5RH_fitF, f5RH_fitC),
  P(0, 4, 2, f5JR_fx, f5JR_f, f5JR_fe, f5JR_cx, f5JR_c, f5JR_ce, f5JR_fitF, f5JR_fitC),
  P(0, 4, 3, f5NL_x, f5NL_f, f5NL_fe, f5NL_x, f5NL_c, f5NL_ce, f5NL_fitF, f5NL_fitC),
  P(0, 5, 0, e10QH_x, e10QH_f, e10QH_fe, e10QH_x, e10QH_c, e10QH_ce, e10QH_fitF, e10QH_fitC),
  P(0, 5, 1, e10RH_x, e10RH_f, e10RH_fe, e10RH_x, e10RH_c, e10RH_ce, e10RH_fitF, e10RH_fitC),
  P(0, 5, 2, e10JR_x, e10JR_f, e10JR_fe, e10JR_x, e10JR_c, e10JR_ce, e10JR_fitF, e10JR_fitC),
  P(0, 5, 3, e10NL_x, e10NL_f, e10NL_fe, e10NL_x, e10NL_c, e10NL_ce, e10NL_fitF, e10NL_fitC),
  P(1, 0, 0, o22QH_fx, o22QH_f, o22QH_fe, o22QH_cx, o22QH_c, o22QH_ce, o22QH_fitF, o22QH_fitC),
  P(1, 0, 1, o22RH_fx, o22RH_f, o22RH_fe, o22RH_cx, o22RH_c, o22RH_ce, o22RH_fitF, o22RH_fitC),
  P(1, 0, 2, o22JR_fx, o22JR_f, o22JR_fe, o22JR_cx, o22JR_c, o22JR_ce, o22JR_fitF, o22JR_fitC),
  P(1, 0, 3, o22NL_fx, o22NL_f, o22NL_fe, o22NL_cx, o22NL_c, o22NL_ce, o22NL_fitF, o22NL_fitC),
  P(1, 1, 0, pg9QH_x, pg9QH_f, pg9QH_fe, pg9QH_x, pg9QH_c, pg9QH_ce, pg9QH_fitF, pg9QH_fitC, { straight: true }),
  P(1, 1, 1, pg9RH_fx, pg9RH_f, pg9RH_fe, pg9RH_cx, pg9RH_c, pg9RH_ce, pg9RH_fitF, pg9RH_fitC),
  P(1, 1, 2, pg9JR_x, pg9JR_f, pg9JR_fe, pg9JR_x, pg9JR_c, pg9JR_ce, pg9JR_fitF, pg9JR_fitC, { straight: true }),
  P(1, 1, 3, pg9NL_x, pg9NL_f, pg9NL_fe, pg9NL_x, pg9NL_c, pg9NL_ce, pg9NL_fitF, pg9NL_fitC),
  P(1, 2, 0, t121QH_fx, t121QH_f, t121QH_fe, t121QH_cx, t121QH_c, t121QH_ce, t121QH_fitF, t121QH_fitC),
  P(1, 2, 1, t121RH_fx, t121RH_f, t121RH_fe, t121RH_cx, t121RH_c, t121RH_ce, t121RH_fitF, t121RH_fitC),
  P(1, 2, 2, t121JR_x, t121JR_f, t121JR_fe, t121JR_x, t121JR_c, t121JR_ce, t121JR_fitF, t121JR_fitC),
  P(1, 2, 3, t121NL_x, t121NL_f, t121NL_fe, t121NL_x, t121NL_c, t121NL_ce, t121NL_fitF, t121NL_fitC),
  P(1, 3, 0, t1074QH_fx, t1074QH_f, t1074QH_fe, t1074QH_cx, t1074QH_c, t1074QH_ce, t1074QH_fitF, t1074QH_fitC),
  P(1, 3, 1, t1074RH_fx, t1074RH_f, t1074RH_fe, t1074RH_cx, t1074RH_c, t1074RH_ce, t1074RH_fitF, t1074RH_fitC),
  P(1, 3, 2, t1074JR_fx, t1074JR_f, t1074JR_fe, t1074JR_cx, t1074JR_c, t1074JR_ce, t1074JR_fitF, t1074JR_fitC),
  P(1, 3, 3, t1074NL_x, t1074NL_f, t1074NL_fe, t1074NL_x, t1074NL_c, t1074NL_ce, t1074NL_fitF, t1074NL_fitC),
  P(1, 4, 0, t126QH_fx, t126QH_f, t126QH_fe, t126QH_cx, t126QH_c, t126QH_ce, t126QH_fitF, t126QH_fitC, { showX: false }),
  P(1, 4, 1, t126RH_fx, t126RH_f, t126RH_fe, t126RH_cx, t126RH_c, t126RH_ce, t126RH_fitF, t126RH_fitC, { showX: false }),
  P(1, 4, 2, t126JR_x, t126JR_f, t126JR_fe, t126JR_x, t126JR_c, t126JR_ce, t126JR_fitF, t126JR_fitC, { showX: false }),
  P(1, 4, 3, t126NL_x, t126NL_f, t126NL_fe, t126NL_x, t126NL_c, t126NL_ce, t126NL_fitF, t126NL_fitC, { showX: false }),
];

// ---------- layout ----------
const FONT = "'Liberation Sans', Arial, Helvetica, sans-serif";
const rowZero = [88, 178, 264, 351, 438, 525];
const plotLeft = [[41, 116, 196, 275], [389, 468, 547, 628]];
const plotW = [61, 63];
const PH = 62;
const YW = 22, PT = 4, PR = 8, XH = 13;

const refLinesPlugin = {
  id: "refLines",
  beforeDatasetsDraw(chart: any) {
    const { ctx, chartArea: a, scales } = chart;
    ctx.save();
    ctx.strokeStyle = "#c6c6c6";
    ctx.lineWidth = 1;
    refValues.forEach((v) => {
      const py = Math.round(scales.y.getPixelForValue(v)) + 0.5;
      ctx.beginPath();
      ctx.moveTo(a.left, py);
      ctx.lineTo(a.right, py);
      ctx.stroke();
    });
    ctx.restore();
  },
};

const errorBarPlugin = {
  id: "errBars",
  beforeDatasetsDraw(chart: any) {
    const { ctx, scales } = chart;
    ctx.save();
    ctx.lineWidth = 0.8;
    chart.data.datasets.forEach((ds: any) => {
      if (!ds.errs) return;
      ctx.strokeStyle = ds.errColor || "#555";
      ds.data.forEach((p: any, j: number) => {
        const e = ds.errs[j];
        if (!e) return;
        const x = Math.round(scales.x.getPixelForValue(p.x)) + 0.5;
        const y1 = scales.y.getPixelForValue(p.y + e);
        const y2 = scales.y.getPixelForValue(p.y - e);
        ctx.beginPath();
        ctx.moveTo(x, y1); ctx.lineTo(x, y2);
        ctx.moveTo(x - 1.5, y1); ctx.lineTo(x + 1.5, y1);
        ctx.moveTo(x - 1.5, y2); ctx.lineTo(x + 1.5, y2);
        ctx.stroke();
      });
    });
    ctx.restore();
  },
};

function PanelChart({ p }: { p: Panel }) {
  const ref = useRef<HTMLCanvasElement | null>(null);
  const W = plotW[p.side];
  const left = plotLeft[p.side][p.col] - YW;
  const top = rowZero[p.row] - 57 - PT;
  const cw = YW + W + PR;
  const ch = PT + PH + XH;
  useEffect(() => {
    if (!ref.current) return;
    const xt = p.wide ? xTicksWide : xTicksStd;
    const showY = p.col === 0;
    const showX = p.showX !== false;
    const curveOpts = p.straight ? { tension: 0 } : { cubicInterpolationMode: "monotone" as const };
    const chart = new Chart(ref.current, {
      type: "scatter",
      data: {
        datasets: [
          {
            data: p.fx.map((x, i) => ({ x, y: p.fy[i] })),
            pointStyle: "circle", pointRadius: 2.1, backgroundColor: "#111", borderColor: "#111", borderWidth: 0,
            errs: p.fe, errColor: "#444", order: 0,
          } as any,
          {
            data: p.cx.map((x, i) => ({ x, y: p.cy[i] })),
            pointStyle: "triangle", pointRadius: 2.6, backgroundColor: "#fff", borderColor: "#666", borderWidth: 0.8,
            errs: p.ce, errColor: "#888", order: 1,
          } as any,
          {
            type: "line", data: p.fitF.map(([x, y]) => ({ x, y })), borderColor: "#111", borderWidth: 1,
            pointRadius: 0, fill: false, showLine: true, order: 3, ...curveOpts,
          } as any,
          {
            type: "line", data: p.fitC.map(([x, y]) => ({ x, y })), borderColor: "#333", borderWidth: 1,
            borderDash: [3, 2], pointRadius: 0, fill: false, showLine: true, order: 2, ...curveOpts,
          } as any,
        ],
      },
      options: {
        animation: false,
        responsive: false,
        maintainAspectRatio: false,
        events: [],
        layout: { padding: { top: PT, right: PR, left: 0, bottom: 0 } },
        plugins: { legend: { display: false }, tooltip: { enabled: false } },
        scales: {
          x: {
            type: "linear", min: xt[0], max: xt[xt.length - 1],
            afterBuildTicks: (s: any) => { s.ticks = xt.map((v) => ({ value: v })); },
            afterFit: (s: any) => { s.height = XH; },
            grid: { drawOnChartArea: false, drawTicks: true, tickLength: 3, color: "#555", lineWidth: 1 },
            border: { color: "#555", width: 1 },
            ticks: { display: showX, autoSkip: false, maxRotation: 0, padding: 0, color: "#333", font: { size: 8.5, family: FONT } },
          },
          y: {
            type: "linear", min: -10, max: 110,
            afterBuildTicks: (s: any) => { s.ticks = yTicks.map((v) => ({ value: v })); },
            afterFit: (s: any) => { s.width = YW; },
            grid: { drawOnChartArea: false, drawTicks: true, tickLength: 3, color: "#555", lineWidth: 1 },
            border: { color: "#555", width: 1 },
            ticks: { display: showY, autoSkip: false, padding: 1, color: "#333", font: { size: 8.5, family: FONT } },
          },
        },
      } as any,
      plugins: [refLinesPlugin, errorBarPlugin],
    });
    return () => chart.destroy();
  }, [p]);
  return (
    <canvas
      ref={ref}
      width={cw}
      height={ch}
      style={{ position: "absolute", left, top, width: cw, height: ch }}
    />
  );
}

const txt = (s: string, left: number, top: number, size: number, extra: React.CSSProperties = {}, key?: string) => (
  <div
    key={key || s + left + top}
    style={{ position: "absolute", left, top, fontFamily: FONT, fontWeight: "bold", fontSize: size, lineHeight: 1, whiteSpace: "nowrap", color: "#111", ...extra }}
  >
    {s}
  </div>
);

const headerCenters = [[64, 147, 230, 311], [410, 492, 579, 658]];
const leftTitleY = [16, 109, 202, 286, 369, 461];
const leftTitleX = [26, 32, 32, 20, 23, 25];
const rightTitleY = [16, 106, 198, 284, 369];
const leftLetters: [string, number, number][] = [["A", 2, 25], ["B", 3, 100], ["C", 2, 194], ["D", 2, 367]];
const rightLetters: [string, number, number][] = [["E", 368, 31], ["F", 360, 102], ["G", 360, 197]];

export default function App() {
  return (
    <div style={{ position: "fixed", left: 0, top: 0, width: 696, height: 567, background: "#fff", overflow: "hidden" }}>
      {headerCenters.map((cs, si) =>
        cs.map((cx, i) => txt(colNames[i], cx - 40, 4, 9, { width: 80, textAlign: "center" }, "h" + si + i))
      )}
      {leftMabs.map((m, i) => txt(m, leftTitleX[i], leftTitleY[i], 8.5))}
      {rightMabs.map((m, i) => txt(m, 375, rightTitleY[i], 8.5))}
      {leftLetters.map(([l, x, y]) => txt(l, x, y, 11.5))}
      {rightLetters.map(([l, x, y]) => txt(l, x, y, 11.5))}
      {panels.map((p, i) => (
        <PanelChart key={i} p={p} />
      ))}
      <div style={{ position: "absolute", left: 8 - 45, top: 281 - 7, width: 90, textAlign: "center", transform: "rotate(-90deg)", fontFamily: FONT, fontWeight: "bold", fontSize: 12.5, lineHeight: "14px", color: "#111" }}>
        % inhibition
      </div>
      {txt("Log 10 concentration (ug/ml)", 272, 545, 10)}
      <div style={{ position: "absolute", left: 612, top: 507, width: 7, height: 7, borderRadius: "50%", background: "#111" }} />
      <svg style={{ position: "absolute", left: 611, top: 521 }} width={10} height={9}>
        <polygon points="5,0.8 9.2,8.3 0.8,8.3" fill="none" stroke="#111" strokeWidth={1.3} />
      </svg>
      {txt("cell free", 631, 506, 10)}
      {txt("cell cell", 631, 521, 10)}
    </div>
  );
}
